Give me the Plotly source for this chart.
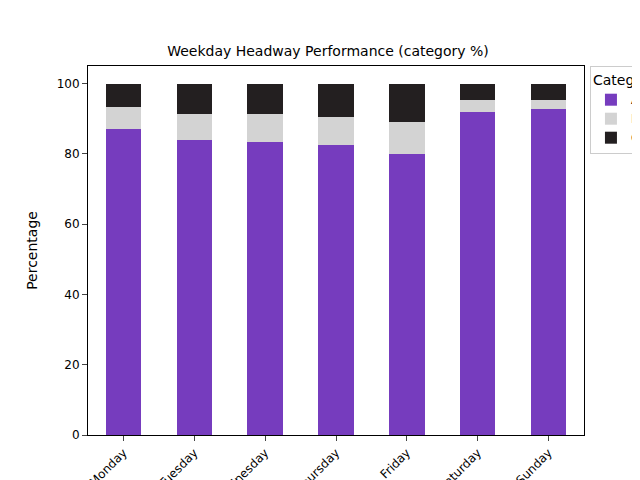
import plotly.graph_objects as go

days = ["Monday","Tuesday","Wednesday","Thursday","Friday","Saturday","Sunday"]
acceptable = [87.0, 84.0, 83.5, 82.5, 80.0, 92.0, 92.8]
bunched = [6.3, 7.3, 7.8, 8.0, 9.0, 3.3, 2.4]
gapped = [6.7, 8.7, 8.7, 9.5, 11.0, 4.7, 4.8]

fig = go.Figure()
for name, vals, col in [("Acceptable", acceptable, "#763cbe"), ("Bunched", bunched, "#d3d3d3"), ("Gapped", gapped, "#231f20")]:
    fig.add_bar(x=days, y=vals, name=name, marker=dict(color=col, line=dict(width=0)))

fig.update_layout(
    barmode="stack", bargap=0.5, width=640, height=480,
    paper_bgcolor="white", plot_bgcolor="white",
    margin=dict(l=80, r=64, t=58, b=53, autoexpand=False),
    font=dict(family="DejaVu Sans", size=12, color="black"),
    title=dict(text="Weekday Headway Performance (category %)", x=0.5, xanchor="center", y=0.91, yanchor="middle", font=dict(size=14)),
    legend=dict(title=dict(text="Category"), x=1.012, y=1, xanchor="left", yanchor="top", traceorder="normal",
                bordercolor="#cccccc", borderwidth=1, bgcolor="white", font=dict(size=12)),
)
fig.update_xaxes(showline=True, linecolor="black", mirror=True, ticks="outside", tickangle=-45, showgrid=False)
fig.update_yaxes(title_text="Percentage", range=[0, 105], dtick=20, showline=True, linecolor="black", mirror=True,
                 ticks="outside", showgrid=False, zeroline=False)
fig.write_html("out.html")
